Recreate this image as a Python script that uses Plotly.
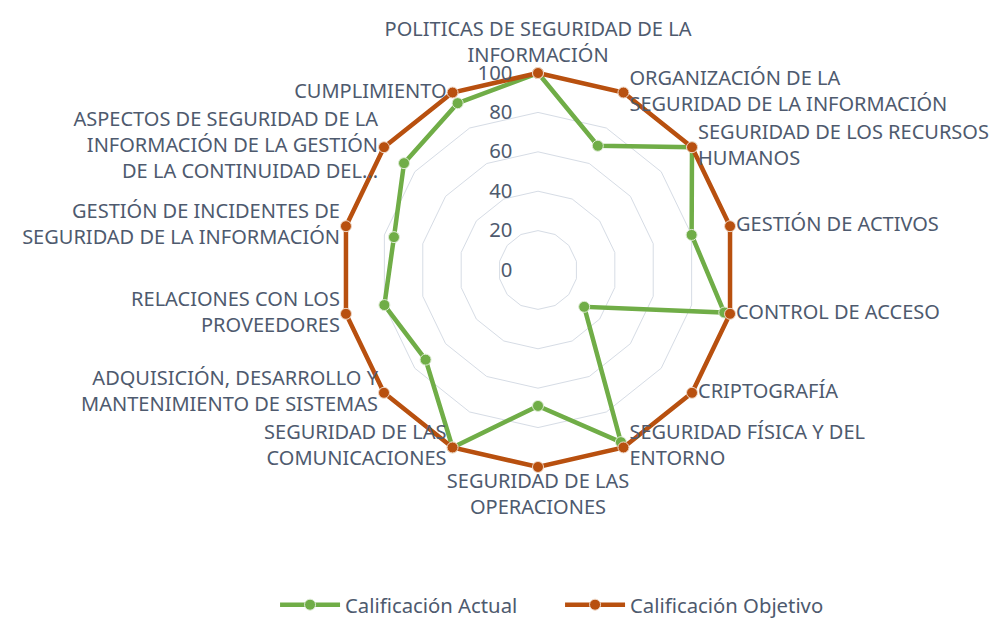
import plotly.graph_objects as go

categories = [
    "POLITICAS DE SEGURIDAD DE LA<br>INFORMACIÓN",
    "ORGANIZACIÓN DE LA<br>SEGURIDAD DE LA INFORMACIÓN",
    "SEGURIDAD DE LOS RECURSOS<br>HUMANOS",
    "GESTIÓN DE ACTIVOS",
    "CONTROL DE ACCESO",
    "CRIPTOGRAFÍA",
    "SEGURIDAD FÍSICA Y DEL<br>ENTORNO",
    "SEGURIDAD DE LAS<br>OPERACIONES",
    "SEGURIDAD DE LAS<br>COMUNICACIONES",
    "ADQUISICIÓN, DESARROLLO Y<br>MANTENIMIENTO DE SISTEMAS",
    "RELACIONES CON LOS<br>PROVEEDORES",
    "GESTIÓN DE INCIDENTES DE<br>SEGURIDAD DE LA INFORMACIÓN",
    "ASPECTOS DE SEGURIDAD DE LA<br>INFORMACIÓN DE LA GESTIÓN<br>DE LA CONTINUIDAD DEL...",
    "CUMPLIMIENTO",
]
actual = [100, 70, 100, 80, 97, 30, 97, 69, 100, 73, 80, 75, 87, 94]
objetivo = [100] * 14
radial_ticks = [0, 20, 40, 60, 80, 100]

# where each category label sits around the outer ring (style only)
label_positions = [
    "top center", "middle right", "middle right", "middle right",
    "middle right", "middle right", "middle right", "bottom center",
    "middle left", "middle left", "middle left", "middle left",
    "middle left", "middle left",
]

GREEN = "#70AD47"
BROWN = "#B8500F"
TEXT = "#4E5A6E"
FONT = "Noto Sans"
FS = 20.3
LABEL_FS = 20

fig = go.Figure()
fig.add_trace(go.Scatterpolar(
    r=actual + actual[:1], theta=categories + categories[:1],
    mode="lines+markers", name="Calificación Actual", cliponaxis=False,
    line=dict(color=GREEN, width=4.5),
    marker=dict(color=GREEN, size=11, line=dict(color="#DDEBD3", width=1)),
))
fig.add_trace(go.Scatterpolar(
    r=objetivo + objetivo[:1], theta=categories + categories[:1],
    mode="lines+markers", name="Calificación Objetivo", cliponaxis=False,
    line=dict(color=BROWN, width=4.5),
    marker=dict(color=BROWN, size=11, line=dict(color="#F0D9C8", width=1)),
))
# category labels at the ends of the category axes (outer ring);
# the invisible markers only give the labels their standoff
fig.add_trace(go.Scatterpolar(
    r=objetivo, theta=categories, text=categories,
    mode="markers+text", textposition=label_positions, cliponaxis=False,
    marker=dict(size=8, color="rgba(0,0,0,0)"),
    textfont=dict(family=FONT, size=LABEL_FS, color=TEXT),
    showlegend=False, hoverinfo="skip",
))

# page has an 8px body margin: the figure is sized to fit the 1000x618 window
fig.update_layout(
    width=992, height=610,
    paper_bgcolor="white", plot_bgcolor="white",
    margin=dict(l=0, r=0, t=0, b=0, autoexpand=False),
    font=dict(family=FONT, size=FS, color=TEXT),
    polar=dict(
        domain=dict(x=[0.33075, 0.73780], y=[0.23951, 0.90148]),
        bgcolor="white",
        gridshape="linear",
        angularaxis=dict(
            direction="clockwise", rotation=90,
            showgrid=False, showline=False, ticks="",
            showticklabels=False,
        ),
        radialaxis=dict(
            range=[0, 102.5], tickvals=radial_ticks, angle=90,
            side="counterclockwise", tickangle=90,
            ticks="outside", ticklen=18, tickcolor="rgba(0,0,0,0)",
            showline=False,
            gridcolor="#D6DCE5", gridwidth=1,
            tickfont=dict(family=FONT, size=FS, color=TEXT),
        ),
    ),
    legend=dict(
        orientation="h", x=0.5565, xanchor="center", y=0.0213, yanchor="middle",
        font=dict(family=FONT, size=FS, color=TEXT),
        itemwidth=60, entrywidth=210,
    ),
)

fig.write_html("out.html")
